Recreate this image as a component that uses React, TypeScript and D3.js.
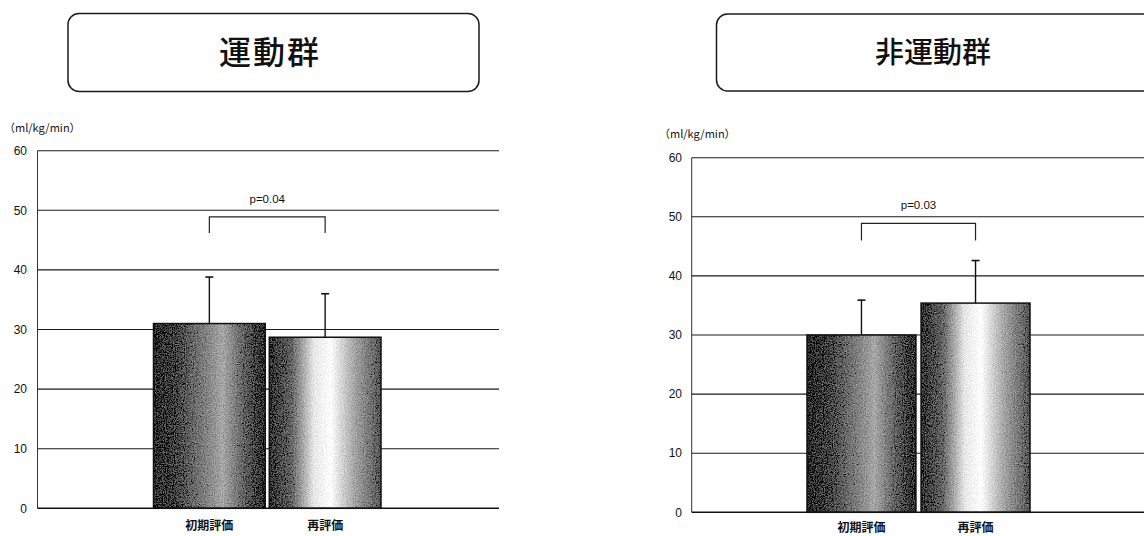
import React from 'react';
import * as d3 from 'd3';

const categories = ['初期評価', '再評価'];
const yTicks = [0, 10, 20, 30, 40, 50, 60];
const titles = ['運動群', '非運動群'];
const unitLabel = '（ml/kg/min）';
const exerciseMeans = [31.0, 28.7];
const exerciseSDs = [7.8, 7.3];
const nonExerciseMeans = [30.0, 35.4];
const nonExerciseSDs = [5.9, 7.2];
const pLabels = ['p=0.04', 'p=0.03'];
const bracketTop = [48.9, 48.9];
const bracketEnd = [46.2, 46.0];
const pLabelValue = [51.2, 51.3];

const panels = [
  {
    means: exerciseMeans, sds: exerciseSDs, title: titles[0], p: pLabels[0],
    bTop: bracketTop[0], bEnd: bracketEnd[0], pY: pLabelValue[0],
    x0: 37.5, x1: 499, yTop: 150.7, yBottom: 508.3, barRange: [153.5, 381], padInner: 0.035,
    box: { x: 68, y: 13.5, w: 411, h: 78 }, titleX: 270, titleSize: 32, titleSpacing: 2,
    tickX: 27, unitX: 4, unitY: 132, catY: 530,
  },
  {
    means: nonExerciseMeans, sds: nonExerciseSDs, title: titles[1], p: pLabels[1],
    bTop: bracketTop[1], bEnd: bracketEnd[1], pY: pLabelValue[1],
    x0: 691.7, x1: 1160, yTop: 157.7, yBottom: 512.3, barRange: [807, 1030], padInner: 0.045,
    box: { x: 716.5, y: 14, w: 460, h: 77 }, titleX: 933, titleSize: 29, titleSpacing: 0,
    tickX: 682, unitX: 659, unitY: 138, catY: 532,
  },
];

const barGradients = [
  [
    { o: 0, c: '#2a2a2a' }, { o: 0.2, c: '#444' }, { o: 0.5, c: '#8a8a8a' },
    { o: 0.62, c: '#a8a8a8' }, { o: 0.8, c: '#666' }, { o: 1, c: '#2a2a2a' },
  ],
  [
    { o: 0, c: '#333' }, { o: 0.2, c: '#666' }, { o: 0.4, c: '#e8e8e8' },
    { o: 0.55, c: '#ffffff' }, { o: 0.75, c: '#aaa' }, { o: 1, c: '#555' },
  ],
];

const font = '"Liberation Sans", Arial, sans-serif';
const cjk = '"Noto Sans CJK JP", sans-serif';

function Panel({ cfg }: { cfg: any }) {
  const y = d3.scaleLinear().domain([0, 60]).range([cfg.yBottom, cfg.yTop]);
  const x = d3.scaleBand<string>().domain(categories).range(cfg.barRange).paddingInner(cfg.padInner).paddingOuter(0);
  const bw = x.bandwidth();
  const cx = (c: string) => (x(c) as number) + bw / 2;
  const b = cfg.box;
  return (
    <g>
      <rect x={b.x} y={b.y} width={b.w} height={b.h} rx={11} ry={11} fill="none" stroke="#1a1a1a" strokeWidth={1.5} />
      <text x={cfg.titleX} y={b.y + b.h / 2} dy="0.36em" textAnchor="middle" fontFamily={cjk} fontWeight={500}
        fontSize={cfg.titleSize} letterSpacing={cfg.titleSpacing} fill="#111">{cfg.title}</text>
      <text x={cfg.unitX} y={cfg.unitY} fontFamily={cjk} fontSize={11} fill="#111">{unitLabel}</text>
      {yTicks.map(t => (
        <g key={t}>
          {t > 0 && <line x1={cfg.x0} x2={cfg.x1} y1={y(t)} y2={y(t)} stroke="#1a1a1a" strokeWidth={1.1} />}
          <text x={cfg.tickX} y={y(t)} dy="0.35em" textAnchor="end" fontFamily={font} fontSize={12} fill="#111">{t}</text>
        </g>
      ))}
      <line x1={cfg.x0} x2={cfg.x0} y1={y(60)} y2={y(0)} stroke="#333" strokeWidth={1} />
      {categories.map((c, i) => (
        <g key={c}>
          <rect x={x(c)} y={y(cfg.means[i])} width={bw} height={y(0) - y(cfg.means[i])}
            fill={`url(#grad${i})`} filter="url(#grain)" />
          <rect x={x(c)} y={y(cfg.means[i])} width={bw} height={y(0) - y(cfg.means[i])}
            fill="none" stroke="#111" strokeWidth={1.5} />
          <line x1={cx(c)} x2={cx(c)} y1={y(cfg.means[i])} y2={y(cfg.means[i] + cfg.sds[i])} stroke="#111" strokeWidth={1.4} />
          <line x1={cx(c) - 4} x2={cx(c) + 4} y1={y(cfg.means[i] + cfg.sds[i])} y2={y(cfg.means[i] + cfg.sds[i])} stroke="#111" strokeWidth={1.6} />
          <text x={cx(c)} y={cfg.catY} textAnchor="middle" fontFamily={cjk} fontWeight={700} fontSize={12} fill="#111">{c}</text>
        </g>
      ))}
      <line x1={cfg.x0} x2={cfg.x1} y1={y(0)} y2={y(0)} stroke="#111" strokeWidth={1.5} />
      <path d={`M${cx(categories[0])},${y(cfg.bEnd)}V${y(cfg.bTop)}H${cx(categories[1])}V${y(cfg.bEnd)}`}
        fill="none" stroke="#222" strokeWidth={1.2} />
      <text x={(cx(categories[0]) + cx(categories[1])) / 2} y={y(cfg.pY)} textAnchor="middle"
        fontFamily={font} fontSize={11.5} fill="#111">{cfg.p}</text>
    </g>
  );
}

export default function App() {
  return (
    <div style={{ position: 'absolute', left: 0, top: 0 }}>
      <svg width={1144} height={536} style={{ display: 'block', background: '#fff' }}>
        <defs>
          {barGradients.map((g, i) => (
            <linearGradient key={i} id={`grad${i}`} x1="0" x2="1" y1="0" y2="0">
              {g.map((s, j) => <stop key={j} offset={s.o} stopColor={s.c} />)}
            </linearGradient>
          ))}
          <filter id="grain" x="0" y="0" width="1" height="1">
            <feTurbulence type="fractalNoise" baseFrequency="0.9" numOctaves={2} seed={3} result="noise" />
            <feColorMatrix in="noise" type="matrix"
              values="0.33 0.33 0.33 0 0  0.33 0.33 0.33 0 0  0.33 0.33 0.33 0 0  0 0 0 0 1" result="gray" />
            <feComposite in="SourceGraphic" in2="gray" operator="arithmetic" k1={0} k2={1} k3={0.9} k4={-0.45} result="mix" />
            <feComposite in="mix" in2="SourceGraphic" operator="in" />
          </filter>
        </defs>
        {panels.map((p, i) => <Panel key={i} cfg={p} />)}
      </svg>
    </div>
  );
}
